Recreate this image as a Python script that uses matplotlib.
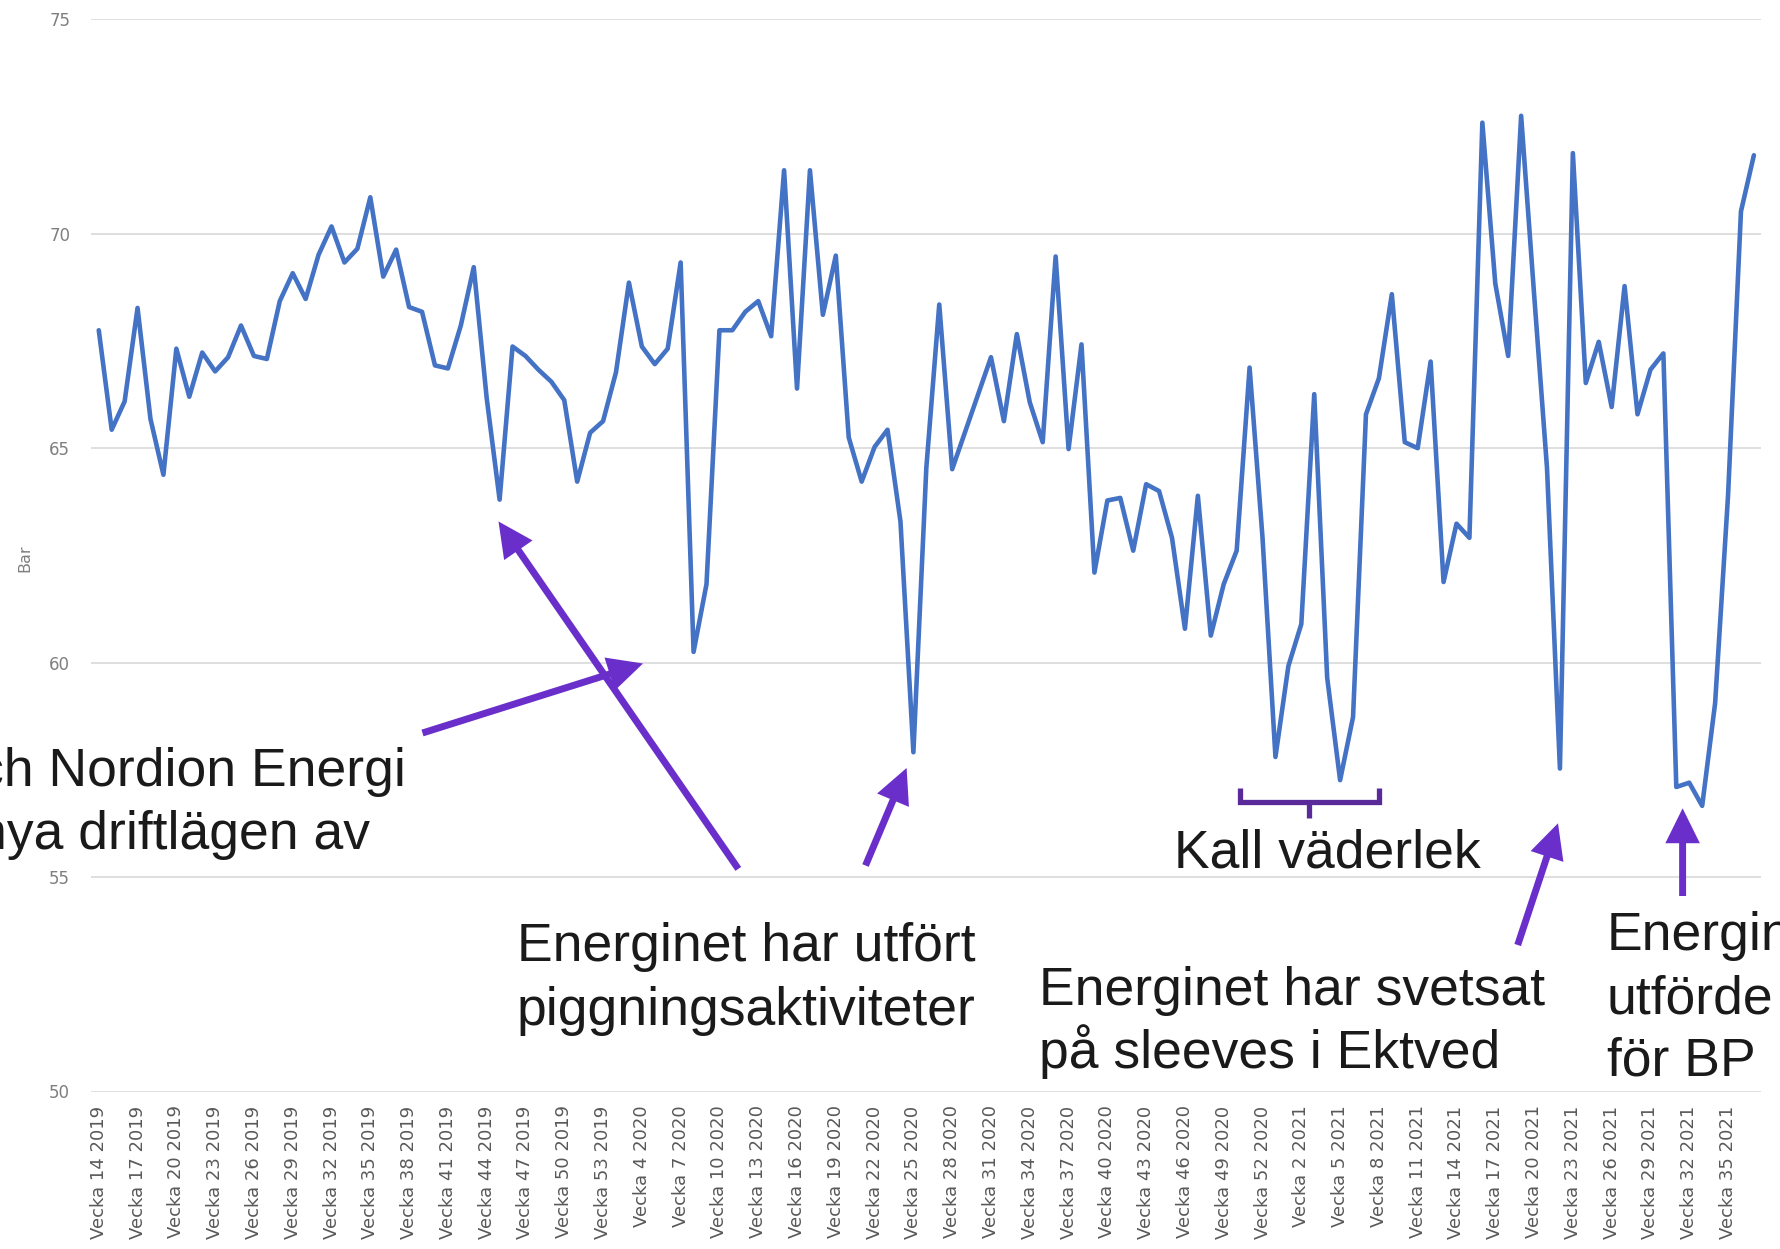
import matplotlib
matplotlib.use("Agg")
import matplotlib.pyplot as plt
from matplotlib.patches import FancyArrowPatch
from matplotlib.lines import Line2D
import numpy as np

# ---------------- data ----------------
tick_labels = [
    "Vecka 14 2019", "Vecka 17 2019", "Vecka 20 2019", "Vecka 23 2019", "Vecka 26 2019",
    "Vecka 29 2019", "Vecka 32 2019", "Vecka 35 2019", "Vecka 38 2019", "Vecka 41 2019",
    "Vecka 44 2019", "Vecka 47 2019", "Vecka 50 2019", "Vecka 53 2019",
    "Vecka 4 2020", "Vecka 7 2020", "Vecka 10 2020", "Vecka 13 2020", "Vecka 16 2020",
    "Vecka 19 2020", "Vecka 22 2020", "Vecka 25 2020", "Vecka 28 2020", "Vecka 31 2020",
    "Vecka 34 2020", "Vecka 37 2020", "Vecka 40 2020", "Vecka 43 2020", "Vecka 46 2020",
    "Vecka 49 2020", "Vecka 52 2020",
    "Vecka 2 2021", "Vecka 5 2021", "Vecka 8 2021", "Vecka 11 2021", "Vecka 14 2021",
    "Vecka 17 2021", "Vecka 20 2021", "Vecka 23 2021", "Vecka 26 2021", "Vecka 29 2021",
    "Vecka 32 2021", "Vecka 35 2021",
]

pressure_bar = [
    67.75, 65.43, 66.09, 68.27, 65.68, 64.38, 67.32, 66.20, 67.23, 66.79,
    67.12, 67.86, 67.15, 67.08, 68.43, 69.08, 68.48, 69.51, 70.17, 69.33,
    69.65, 70.85, 69.00, 69.63, 68.29, 68.18, 66.93, 66.86, 67.86, 69.22,
    66.17, 63.80, 67.37, 67.15, 66.83, 66.55, 66.12, 64.22, 65.36, 65.63,
    66.77, 68.86, 67.37, 66.96, 67.32, 69.33, 60.25, 61.83, 67.75, 67.75,
    68.18, 68.43, 67.61, 71.48, 66.39, 71.48, 68.11, 69.49, 65.25, 64.22,
    65.03, 65.43, 63.29, 57.91, 64.54, 68.35, 64.51, 65.38, 66.25, 67.12,
    65.63, 67.66, 66.07, 65.14, 69.47, 64.98, 67.42, 62.10, 63.78, 63.84,
    62.61, 64.16, 64.00, 62.91, 60.79, 63.89, 60.63, 61.83, 62.61, 66.88,
    62.91, 57.80, 59.92, 60.90, 66.26, 59.65, 57.26, 58.73, 65.79, 66.63,
    68.59, 65.14, 65.00, 67.02, 61.88, 63.24, 62.91, 72.59, 68.84, 67.15,
    72.75, 68.60, 64.54, 57.53, 71.88, 66.52, 67.48, 65.96, 68.78, 65.79,
    66.83, 67.21, 57.10, 57.20, 56.66, 59.05, 63.89, 70.52, 71.83,
]

y_ticks = [50, 55, 60, 65, 70, 75]
y_label = "Bar"

ann_left = ["ch Nordion Energi", "nya driftlägen av"]
ann_pigg = ["Energinet har utfört", "piggningsaktiviteter"]
ann_cold = "Kall väderlek"
ann_svets = ["Energinet har svetsat", "på sleeves i Ektved"]
ann_bp = ["Energinet", "utförde", "för BP"]

# ---------------- figure ----------------
W, H = 1781, 1249
fig = plt.figure(figsize=(W / 100, H / 100), dpi=100)
fig.patch.set_facecolor("white")


def fx(x):
    return x / W


def fy(y):
    return 1 - y / H


ax = fig.add_axes([fx(91), fy(1091.5), (1761 - 91) / W, (1091.5 - 19.3) / H])

x = np.arange(len(pressure_bar))
ax.plot(x, pressure_bar, color="#4472C4", lw=3.3,
        solid_joinstyle="round", solid_capstyle="round", zorder=3)

ax.set_xlim(-0.6, 128.55)
ax.set_ylim(50, 75)
ax.set_yticks(y_ticks)
ax.set_yticklabels([str(v) for v in y_ticks])
ax.yaxis.grid(True, color="#d9d9d9", lw=1.2)
ax.set_axisbelow(True)
for s in ax.spines.values():
    s.set_visible(False)

ax.set_xticks(x[::3])
ax.set_xticklabels(tick_labels, rotation=90, va="top", ha="center",
                   fontsize=13, color="#595959", family="DejaVu Sans")
ax.tick_params(axis="x", length=0, pad=10)
ax.tick_params(axis="y", length=0, pad=15, labelsize=12, labelcolor="#7f7f7f")

fig.text(fx(25), fy(558), y_label, rotation=90, ha="center", va="center",
         fontsize=11.5, color="#7f7f7f")

# ---------------- annotations ----------------
TXT = dict(family=["Liberation Sans", "DejaVu Sans"], fontsize=38.5, color="#1a1a1a")


def lines(xpx, baselines, texts, ha="left"):
    for b, t in zip(baselines, texts):
        fig.text(fx(xpx), fy(b), t, ha=ha, va="baseline", **TXT)


lines(-23, [786, 849], ann_left)
lines(517, [961, 1025], ann_pigg)
fig.text(fx(1327), fy(867), ann_cold, ha="center", va="baseline", **TXT)
lines(1039, [1005, 1068], ann_svets)
lines(1607, [950, 1013, 1075], ann_bp)

ARROW = "#6A2FCA"
arrows = [
    ((422.5, 733.0), (643.0, 663.5)),
    ((738.3, 868.9), (498.5, 521.5)),
    ((865.5, 865.5), (906.6, 768.0)),
    ((1517.7, 945.0), (1558.0, 823.3)),
    ((1682.6, 896.0), (1682.6, 808.3)),
]
for (x0, y0), (x1, y1) in arrows:
    fig.add_artist(FancyArrowPatch(
        (fx(x0), fy(y0)), (fx(x1), fy(y1)), transform=fig.transFigure,
        arrowstyle="-|>,head_length=0.85,head_width=0.42", mutation_scale=20,
        lw=5, color=ARROW, shrinkA=0, shrinkB=0, joinstyle="miter",
        capstyle="butt"))

BR = "#5B2A9A"
bx0, bx1, bxc = 1240.5, 1379.0, 1309.0
by, byt, byb = 801.7, 788.3, 818.3
fig.add_artist(Line2D([fx(bx0), fx(bx0), fx(bx1), fx(bx1)],
                      [fy(byt), fy(by), fy(by), fy(byt)],
                      transform=fig.transFigure, color=BR, lw=3.8,
                      solid_joinstyle="miter", solid_capstyle="butt"))
fig.add_artist(Line2D([fx(bxc), fx(bxc)], [fy(by), fy(byb)],
                      transform=fig.transFigure, color=BR, lw=3.8,
                      solid_capstyle="butt"))

fig.savefig("out.png", dpi=100, facecolor="white")
